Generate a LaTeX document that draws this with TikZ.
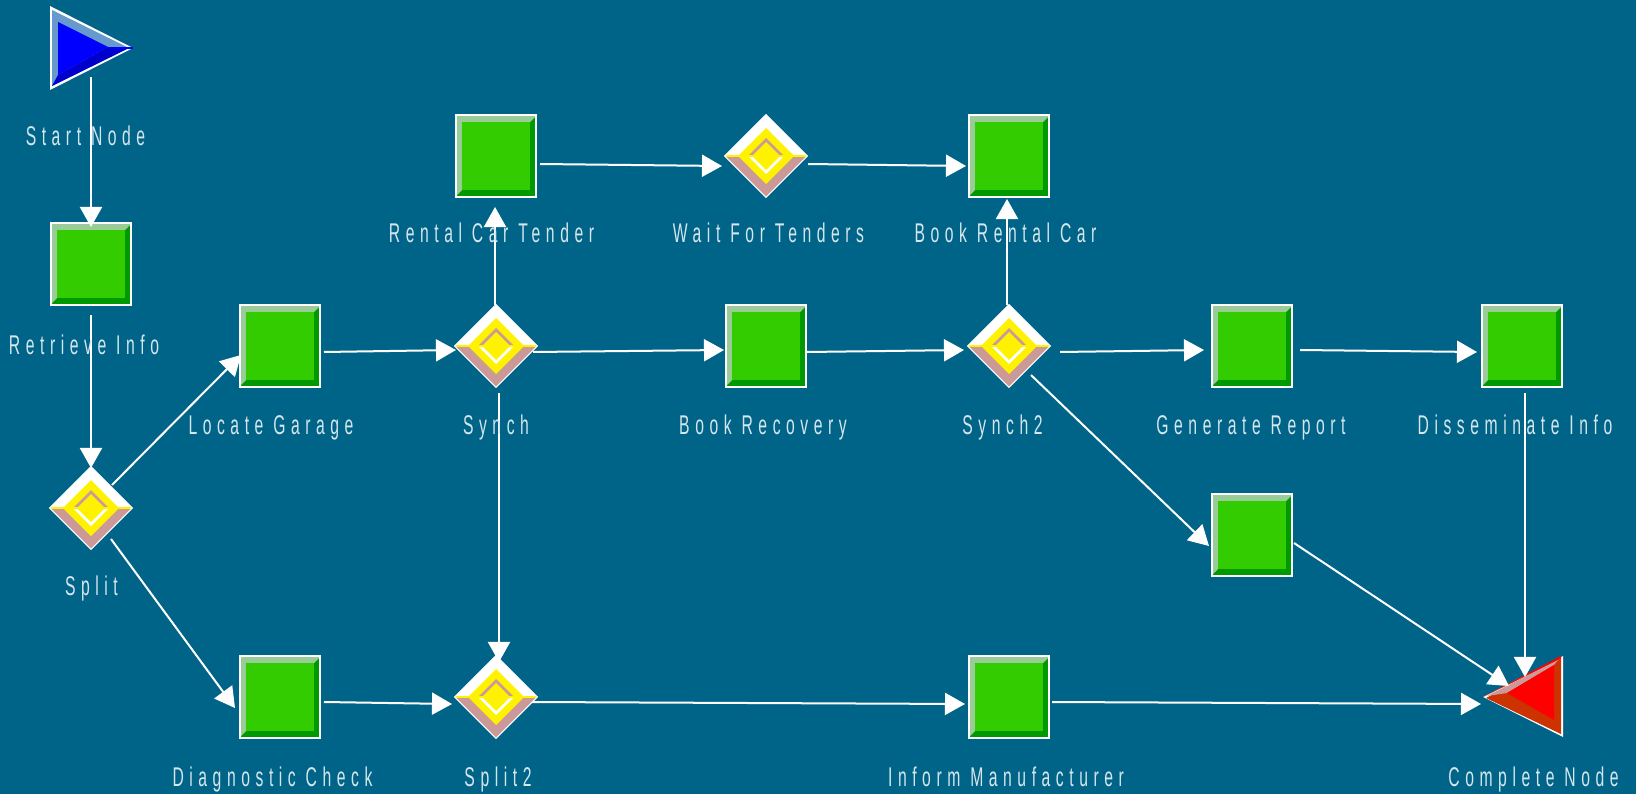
\documentclass[tikz,border=0pt]{standalone}
\usepackage{fontspec}
\newfontfamily\labelfont[FakeStretch=0.58,LetterSpace=20.5]{Liberation Sans}
\usetikzlibrary{arrows.meta}
\usetikzlibrary{shapes.geometric}
\definecolor{bgblue}{HTML}{006488}
\definecolor{taskgreen}{HTML}{33CC00}
\definecolor{taskdark}{HTML}{009900}
\definecolor{tasklight}{HTML}{99CC99}
\definecolor{rosy}{HTML}{CC9999}
\definecolor{startlight}{HTML}{6699CC}
\definecolor{startdark}{HTML}{0000CC}
\definecolor{endbrown}{HTML}{CC3300}
\definecolor{labelgrey}{HTML}{D5E6EC}
\tikzstyle{taskvertex}=[rectangle,draw=white,line width=0.02cm,minimum width=0.80cm,minimum height=0.82cm,inner sep=0pt,
  path picture={\begin{scope}[shift={(path picture bounding box.center)}]
    \fill[taskdark] (-42,-42) rectangle (42,42);
    \fill[tasklight] (-42,42) -- (-42,-42) -- (42,-42) -- (34,-34) -- (-34,-34) -- (-34,34) -- cycle;
    \fill[taskgreen] (-34,-34) rectangle (34,34);
  \end{scope}}]
\tikzstyle{gatevertex}=[diamond,aspect=1,draw=white,line width=0.01cm,minimum width=0.83cm,minimum height=0.83cm,inner sep=0pt,
  path picture={\begin{scope}[shift={(path picture bounding box.center)}]
    \fill[white] (-42,0) -- (0,-42) -- (42,0) -- cycle;
    \fill[rosy] (-42,0) -- (0,42) -- (42,0) -- cycle;
    \fill[yellow] (-28,0) -- (0,-28) -- (28,0) -- (0,28) -- cycle;
    \fill[rosy] (-18,0) -- (0,-18) -- (18,0) -- cycle;
    \fill[white] (-18,0) -- (0,18) -- (18,0) -- cycle;
    \fill[yellow] (-14,0) -- (0,-14) -- (14,0) -- (0,14) -- cycle;
    \draw[yellow,line width=0.02cm] (-42,0) -- (42,0);
  \end{scope}}]
\tikzstyle{startvertex}=[rectangle,minimum width=0.84cm,minimum height=0.86cm,inner sep=0pt,
  path picture={\begin{scope}[shift={(path picture bounding box.center)}]
    \fill[white] (-41,-42) -- (42,0) -- (-41,42) -- cycle;
    \fill[startlight] (-39,-38) -- (38,0) -- (-39,38) -- cycle;
    \fill[startdark] (-39,38) -- (38,0) -- (17,-1) -- (-33,27) -- cycle;
    \fill[blue] (-33,-26) -- (17,-1) -- (-33,27) -- cycle;
    \draw[blue,line width=0.02cm] (17,0) -- (42,0);
  \end{scope}}]
\tikzstyle{endvertex}=[rectangle,minimum width=0.84cm,minimum height=0.86cm,inner sep=0pt,
  path picture={\begin{scope}[shift={(path picture bounding box.center)}]
    \fill[white] (-40,0) -- (40,-41) -- (40,40) -- cycle;
    \fill[red] (-40,0) -- (38,-41) -- (38,-38) -- cycle;
    \fill[endbrown] (-37,1) -- (38,-38) -- (38,37) -- cycle;
    \fill[rosy] (-36,-1) -- (35,-37) -- (31,-32) -- (-16,-4) -- cycle;
    \fill[red] (-16,-4) -- (31,-32) -- (31,23) -- cycle;
  \end{scope}}]
\tikzstyle{flowedge}=[draw=white,line width=0.02cm,-{Triangle[length=0.20cm,width=0.22cm]}]
\tikzstyle{caption}=[text=labelgrey,anchor=base,inner sep=0pt,font=\labelfont\fontsize{7.7}{9}\selectfont]

\begin{document}
\begin{tikzpicture}[x=0.01cm,y=-0.01cm]
    % Background
    \useasboundingbox (0,0) rectangle (1636,794);
    \fill[bgblue] (0,0) rectangle (1636,794);

    % First we draw the vertices
    \node[startvertex] (Start) at (91,48) {};
    \node[endvertex] (Complete) at (1523,697) {};
    \foreach \pos/\name in {{(91,264)/Retrieve}, {(280,346)/Locate}, {(280,697)/Diagnostic}, {(496,156)/Rental}, {(766,346)/Recovery},
        {(1009,156)/BookRental}, {(1252,346)/Report}, {(1522,346)/Disseminate}, {(1252,535)/Blank}, {(1009,697)/Inform}}
        \node[taskvertex] (\name) at \pos {};
    \foreach \pos/\name in {{(91,508)/Split}, {(496,346)/Synch}, {(496,697)/SplitTwo}, {(766,156)/Wait}, {(1009,346)/SynchTwo}}
        \node[gatevertex] (\name) at \pos {};

    % Connect vertices with edges, offsets from the centres
    \foreach \source/\dest/\sx/\sy/\dx/\dy in {Start/Retrieve/0/29/0/-37, Retrieve/Split/0/51/0/-40, Split/Locate/21/-23/-39/9,
        Split/Diagnostic/20/31/-45/11, Locate/Synch/44/6/-40/4, Synch/Rental/-1/-41/-1/51, Synch/Recovery/37/6/-42/4,
        Synch/SplitTwo/3/47/3/-35, Recovery/SynchTwo/41/6/-45/4, SynchTwo/BookRental/-2/-41/-2/43, SynchTwo/Report/51/6/-48/4,
        SynchTwo/Blank/22/29/-43/11, Report/Disseminate/48/4/-45/6, Disseminate/Complete/3/47/2/-20, Blank/Complete/42/8/-14/-11,
        Rental/Wait/44/8/-44/10, Wait/BookRental/42/8/-43/10, Diagnostic/SplitTwo/44/5/-44/7, SplitTwo/Inform/36/5/-44/7,
        Inform/Complete/43/5/-42/7}
        \path[flowedge] ([shift={(\sx,\sy)}]\source.center) -- ([shift={(\dx,\dy)}]\dest.center);

    % Captions
    \foreach \pos/\name/\label in {{(85.5,146)/StartCap/Start Node}, {(84,354)/RetrieveCap/Retrieve Info}, {(91.5,595)/SplitCap/Split},
        {(271,434)/LocateCap/Locate Garage}, {(496,434)/SynchCap/Synch}, {(763,434)/RecoveryCap/Book Recovery},
        {(1002.5,434)/SynchTwoCap/Synch2}, {(1251,434)/ReportCap/Generate Report}, {(1515,434)/DisseminateCap/Disseminate Info},
        {(491.5,242)/RentalCap/Rental Car Tender}, {(768.5,242)/WaitCap/Wait For Tenders}, {(1005.5,242)/BookRentalCap/Book Rental Car},
        {(272.5,786)/DiagnosticCap/Diagnostic Check}, {(498,786)/SplitTwoCap/Split2}, {(1006,786)/InformCap/Inform Manufacturer},
        {(1533.5,786)/CompleteCap/Complete Node}}
        \node[caption] (\name) at \pos {\label};
\end{tikzpicture}
\end{document}
